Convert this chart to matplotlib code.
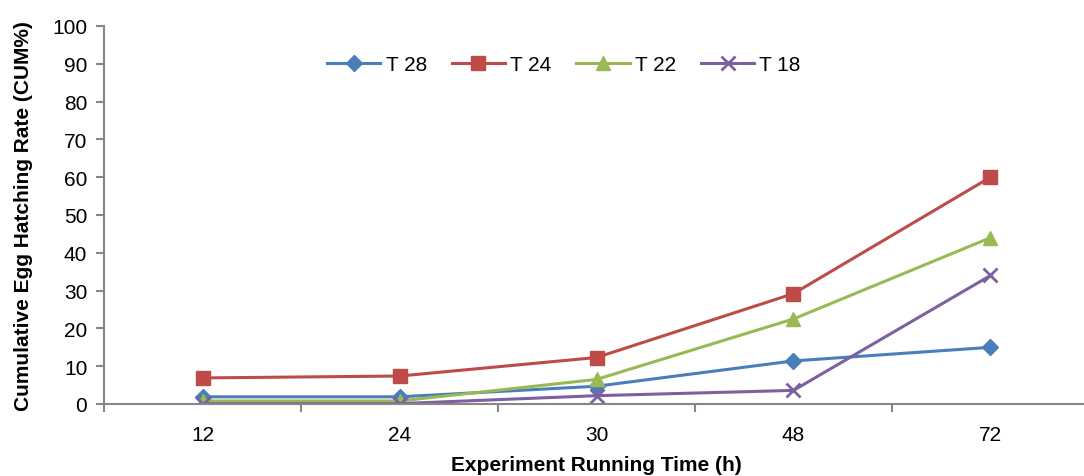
import matplotlib
matplotlib.use("Agg")
import matplotlib.pyplot as plt

plt.rcParams['font.family'] = ['Liberation Sans', 'DejaVu Sans']

categories = ["12", "24", "30", "48", "72"]
series_names = ["T 28", "T 24", "T 22", "T 18"]
t28 = [1.9, 1.9, 4.7, 11.4, 15.0]
t24 = [6.9, 7.4, 12.3, 29.2, 60.0]
t22 = [0.8, 0.8, 6.5, 22.5, 44.0]
t18 = [0.1, 0.1, 2.2, 3.6, 34.0]
yticks = [0, 10, 20, 30, 40, 50, 60, 70, 80, 90, 100]

colors = ["#4A7EBB", "#BE4B48", "#98B954", "#7D60A0"]
markers = ["D", "s", "^", "x"]
msizes = [8.5, 10, 10, 10]

fig = plt.figure(figsize=(10.84, 4.77), dpi=100)
ax = fig.add_axes([104/1084, 1-405/477, 985/1084, 378/477])

x = list(range(len(categories)))
for vals, name, c, m, ms in zip([t28, t24, t22, t18], series_names, colors, markers, msizes):
    ax.plot(x, vals, color=c, marker=m, markersize=ms, linewidth=2.2,
            markeredgewidth=2 if m == "x" else 1, markeredgecolor=c, label=name)

ax.set_xlim(-0.5, len(categories) - 0.5)
ax.set_ylim(0, 100)
ax.set_yticks(yticks)
ax.set_xticks(x)
ax.set_xticklabels(categories)
ax.set_xticks([i - 0.5 for i in range(len(categories) + 1)], minor=True)
ax.tick_params(axis='x', which='major', length=0, pad=15, labelsize=15)
ax.tick_params(axis='x', which='minor', length=6, width=1.5, color="#868686")
ax.tick_params(axis='y', length=6, width=1.5, color="#868686", labelsize=15, pad=6)

for s in ["top", "right"]:
    ax.spines[s].set_visible(False)
for s in ["left", "bottom"]:
    ax.spines[s].set_color("#868686")
    ax.spines[s].set_linewidth(1.5)

ax.set_xlabel("Experiment Running Time (h)", fontsize=15, fontweight="bold", labelpad=8)
ax.set_ylabel("Cumulative Egg Hatching Rate (CUM%)", fontsize=15, fontweight="bold", labelpad=14)

ax.legend(loc="center", bbox_to_anchor=((564-104)/985, (405-66)/378), ncol=4, frameon=False,
          fontsize=15, handlelength=2.55, columnspacing=1.2, handletextpad=0.25)

fig.savefig("out.png", dpi=100)
